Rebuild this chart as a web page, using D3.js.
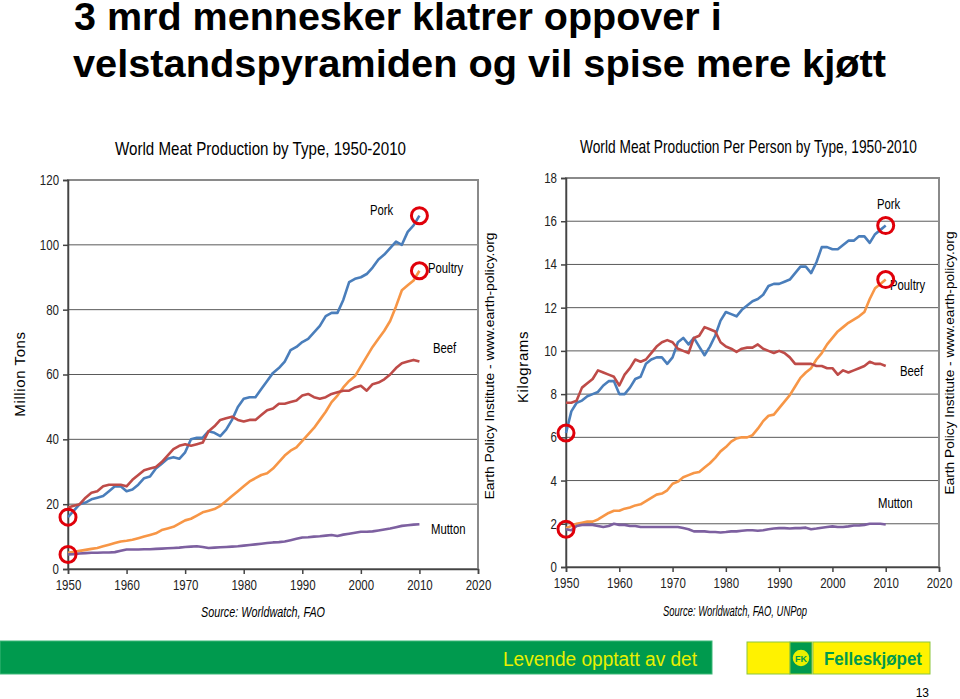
<!DOCTYPE html>
<meta charset="utf-8">
<style>
    body { margin: 0; background: #fff; }
    svg { font-family: "Liberation Sans", Arial, sans-serif; }
    .grid line { stroke: #5a5a5a; stroke-width: 1; }
    .tick text { font-size: 14px; fill: #222; }
</style>
<body>
<script src="https://cdn.jsdelivr.net/npm/d3@7"></script>
<script>
    // years 1950..2010
    const years = d3.range(1950, 2011);

    // million tons
    const totalPork = [16,18,20,20.5,21.5,22,22.5,24,25.5,25.5, 24,24.5,26,28,28.5,31,32.5,34,34.5,34,
        36,40,40.5,40.5,42.5,42,41,43,46,50, 52.5,53,53,55.5,58,60.5,62,64,67.5,68.5,
        70,71,73,75,78,79,79,83,88.5,89.5, 90,91,93,95.5,97,99,101,100,104,106, 109];
    const totalPoultry = [5,5.3,5.6,5.9,6.2,6.5,7,7.5,8,8.5, 8.7,9,9.5,10,10.5,11,12,12.5,13,14,
        15,15.5,16.5,17.5,18,18.5,19.5,21,22.5,24, 25.5,27,28,29,29.5,31,33,35,36.5,37.5,
        39.5,41.5,43.5,46,48.5,51.5,53.5,56,58,59.5, 62.5,65.5,68.5,71,73.5,76.5,81,86,87.5,89, 92];
    const totalBeef = [19,19.5,20,22,23.5,24,25.5,26,26,26, 25.5,27.5,29,30.5,31,31.5,33,35,37,38,
        38.5,38,38.5,39,42.5,44,46,46.5,47,46, 45.5,46,46,47.5,49,49.5,51,51,51.5,52,
        53.5,54,53,52.5,53,54,54.5,55,55,56, 56.5,55,57,57.5,58.5,60,62,63.5,64,64.5, 64];
    const totalMutton = [4.5,4.6,4.8,4.9,5,5,5.1,5.1,5.2,5.6, 6,6,6,6.1,6.1,6.2,6.3,6.4,6.5,6.6,
        6.8,6.9,7,6.8,6.5,6.6,6.7,6.8,6.9,7, 7.2,7.4,7.6,7.8,8,8.2,8.3,8.5,8.9,9.3,
        9.7,9.8,10,10.1,10.3,10.5,10.2,10.6,10.9,11.2, 11.5,11.5,11.6,11.9,12.2,12.5,12.9,13.3,13.5,13.7, 13.8];

    // kilograms per person
    const perPork = [6.2,7.2,7.6,7.7,7.9,8,8.1,8.4,8.6,8.6, 8,8,8.3,8.7,8.8,9.4,9.6,9.7,9.7,9.4,
        9.7,10.4,10.6,10.3,10.6,10.2,9.8,10.2,10.7,11.4, 11.8,11.7,11.6,11.9,12.1,12.3,12.4,12.6,13,13.1,
        13.1,13.2,13.3,13.6,13.9,13.9,13.6,14.1,14.8,14.8, 14.7,14.7,14.9,15.1,15.1,15.3,15.3,15,15.4,15.6, 15.8];
    const perBeef = [7.6,7.6,7.7,8.3,8.5,8.7,9.1,9,8.9,8.8, 8.4,8.9,9.2,9.6,9.5,9.6,9.9,10.2,10.4,10.5,
        10.4,10.1,10,9.9,10.6,10.7,11.1,11,10.9,10.4, 10.2,10.1,9.95,10.1,10.15,10.15,10.3,10.1,10,9.9,
        10,9.9,9.7,9.4,9.4,9.4,9.4,9.3,9.3,9.2, 9.2,8.9,9.1,9,9.1,9.2,9.3,9.5,9.4,9.4, 9.3];
    const perPoultry = [1.8,1.9,2,2.05,2.1,2.1,2.2,2.35,2.5,2.6, 2.6,2.7,2.75,2.85,2.9,3.05,3.2,3.35,3.4,3.55,
        3.85,3.95,4.15,4.25,4.35,4.4,4.6,4.8,5.05,5.35, 5.55,5.8,5.95,6,6,6.1,6.4,6.75,7,7.05,
        7.35,7.65,7.95,8.35,8.75,9,9.2,9.6,9.9,10.3, 10.6,10.9,11.1,11.3,11.45,11.6,11.8,12.4,12.9,13.1, 13.3];
    const perMutton = [1.75,1.7,1.9,1.95,1.95,1.95,1.9,1.85,1.9,2, 1.95,1.95,1.9,1.9,1.85,1.85,1.85,1.85,1.85,1.85,
        1.85,1.85,1.8,1.75,1.65,1.65,1.65,1.62,1.62,1.6, 1.62,1.65,1.65,1.68,1.7,1.7,1.68,1.7,1.75,1.78,
        1.8,1.8,1.78,1.8,1.8,1.82,1.75,1.78,1.82,1.85, 1.88,1.85,1.85,1.88,1.92,1.92,1.95,2,2,2, 1.97];

    const xTicks = [1950, 1960, 1970, 1980, 1990, 2000, 2010, 2020];
    const leftTicks = [0, 20, 40, 60, 80, 100, 120];
    const rightTicks = [0, 2, 4, 6, 8, 10, 12, 14, 16, 18];

    const colors = {Pork: "#4a7ebb", Beef: "#be4b48", Poultry: "#f79646", Mutton: "#7d60a0"};

    const svg = d3.select("body").append("svg")
        .attr("width", 960)
        .attr("height", 699);

    // squeeze text horizontally, no narrow font installed
    function narrow(sel, k) {
        sel.each(function() {
            const w = this.getComputedTextLength();
            d3.select(this).attr("textLength", w * (k || 0.8)).attr("lengthAdjust", "spacingAndGlyphs");
        });
    }

    // slide title
    svg.append("text")
        .attr("x", 74).attr("y", 30)
        .style("font-weight", "bold").style("font-size", "39.5px")
        .text("3 mrd mennesker klatrer oppover i");
    svg.append("text")
        .attr("x", 73).attr("y", 77)
        .attr("textLength", 813).attr("lengthAdjust", "spacingAndGlyphs")
        .style("font-weight", "bold").style("font-size", "39.5px")
        .text("velstandspyramiden og vil spise mere kjøtt");

    function drawChart(c) {
        const g = svg.append("g");
        const x = d3.scaleLinear().domain([1950, 2020]).range([c.left, c.right]);
        const y = d3.scaleLinear().domain([0, c.ymax]).range([c.bottom, c.top]);

        // grid
        g.append("g").attr("class", "grid")
            .selectAll("line")
            .data(c.yTicks.filter(d => d > 0 && d < c.ymax))
            .enter().append("line")
            .attr("x1", c.left).attr("x2", c.right)
            .attr("y1", d => y(d)).attr("y2", d => y(d));

        // frame
        g.append("rect")
            .attr("x", c.left).attr("y", c.top)
            .attr("width", c.right - c.left).attr("height", c.bottom - c.top)
            .style("fill", "none").style("stroke", "#8a8a8a").style("stroke-width", 2);

        // axes
        g.append("g")
            .attr("transform", "translate(" + c.left + ",0)")
            .call(d3.axisLeft(y).tickValues(c.yTicks).tickSize(5).tickPadding(4))
            .call(a => a.selectAll("path, line").style("stroke", "#444").style("stroke-width", 1.5))
            .call(a => a.selectAll("text").call(narrow, 0.82));

        g.append("g")
            .attr("transform", "translate(0," + c.bottom + ")")
            .call(d3.axisBottom(x).tickValues(xTicks).tickFormat(d3.format("d")).tickSize(5).tickPadding(6))
            .call(a => a.selectAll("path, line").style("stroke", "#444").style("stroke-width", 1.5))
            .call(a => a.selectAll("text").call(narrow, 0.82));

        // lines
        const line = d3.line()
            .x((d, i) => x(years[i]))
            .y(d => y(d));

        c.series.forEach(s => {
            g.append("path")
                .datum(s.values)
                .attr("d", line)
                .style("fill", "none")
                .style("stroke", colors[s.name])
                .style("stroke-width", 2.6)
                .style("stroke-linejoin", "round");

            g.append("text")
                .attr("x", s.lx).attr("y", s.ly)
                .style("font-size", "14.5px")
                .text(s.name)
                .call(narrow, 0.78);
        });

        // red circles on highlighted points
        g.selectAll(".mark")
            .data(c.circles)
            .enter().append("circle")
            .attr("cx", d => x(d.year))
            .attr("cy", d => y(d.value))
            .attr("r", 8)
            .style("fill", "none")
            .style("stroke", "#e0000a")
            .style("stroke-width", 3);

        // titles
        g.append("text")
            .attr("x", c.titleX).attr("y", c.titleY)
            .attr("textLength", c.titleW).attr("lengthAdjust", "spacingAndGlyphs")
            .style("font-size", "19px")
            .text(c.title);

        g.append("text")
            .attr("x", c.sourceX).attr("y", c.sourceY)
            .attr("textLength", c.sourceW).attr("lengthAdjust", "spacingAndGlyphs")
            .style("font-size", "15px").style("font-style", "italic")
            .text(c.source);

        g.append("text")
            .attr("transform", "translate(" + c.yLabelX + "," + c.yLabelY + ") rotate(-90)")
            .style("text-anchor", "middle")
            .style("font-size", "15px")
            .style("letter-spacing", "0.6px")
            .text(c.yLabel);

        g.append("text")
            .attr("transform", "translate(" + c.creditX + "," + c.creditY + ") rotate(-90)")
            .attr("textLength", c.creditW).attr("lengthAdjust", "spacingAndGlyphs")
            .style("text-anchor", "middle")
            .style("font-size", "13px")
            .text("Earth Policy Institute - www.earth-policy.org");
    }

    drawChart({
        left: 68, right: 478, top: 180, bottom: 569, ymax: 120, yTicks: leftTicks,
        series: [
            {name: "Pork", values: totalPork, lx: 370, ly: 215},
            {name: "Poultry", values: totalPoultry, lx: 428, ly: 273},
            {name: "Beef", values: totalBeef, lx: 433, ly: 353},
            {name: "Mutton", values: totalMutton, lx: 431, ly: 534}
        ],
        circles: [
            {year: 2010, value: totalPork[60]},
            {year: 2010, value: totalPoultry[60]},
            {year: 1950, value: totalPork[0]},
            {year: 1950, value: totalMutton[0]}
        ],
        title: "World Meat Production by Type, 1950-2010", titleX: 115, titleY: 155, titleW: 291,
        source: "Source: Worldwatch, FAO", sourceX: 201, sourceY: 617, sourceW: 124,
        yLabel: "Million Tons", yLabelX: 25, yLabelY: 374,
        creditX: 494, creditY: 366, creditW: 267
    });

    drawChart({
        left: 566, right: 939, top: 178, bottom: 567, ymax: 18, yTicks: rightTicks,
        series: [
            {name: "Pork", values: perPork, lx: 877, ly: 209},
            {name: "Poultry", values: perPoultry, lx: 890, ly: 290},
            {name: "Beef", values: perBeef, lx: 900, ly: 376},
            {name: "Mutton", values: perMutton, lx: 878, ly: 508}
        ],
        circles: [
            {year: 2010, value: perPork[60]},
            {year: 2010, value: perPoultry[60]},
            {year: 1950, value: perPork[0]},
            {year: 1950, value: perMutton[0]}
        ],
        title: "World Meat Production Per Person by Type, 1950-2010", titleX: 580, titleY: 153, titleW: 337,
        source: "Source: Worldwatch, FAO, UNPop", sourceX: 663, sourceY: 616, sourceW: 144,
        yLabel: "Kilograms", yLabelX: 528, yLabelY: 367,
        creditX: 954, creditY: 363, creditW: 263
    });

    // footer
    const footer = svg.append("g");
    footer.append("rect")
        .attr("x", 0).attr("y", 641).attr("width", 712).attr("height", 33)
        .style("fill", "#009a4e").style("stroke", "#3cb878").style("stroke-width", 1);
    footer.append("text")
        .attr("x", 503).attr("y", 666)
        .attr("textLength", 194).attr("lengthAdjust", "spacingAndGlyphs")
        .style("font-size", "20px").style("fill", "#e8f000")
        .text("Levende opptatt av det");

    footer.append("rect")
        .attr("x", 747).attr("y", 642).attr("width", 43).attr("height", 32)
        .style("fill", "#fff200").style("stroke", "#8cc63f");
    footer.append("rect")
        .attr("x", 790).attr("y", 642).attr("width", 22).attr("height", 32)
        .style("fill", "#009a4e").style("stroke", "#8cc63f");
    footer.append("circle")
        .attr("cx", 801).attr("cy", 658).attr("r", 9)
        .style("fill", "#e8f000").style("stroke", "#009a4e").style("stroke-width", 1.5);
    footer.append("text")
        .attr("x", 801).attr("y", 662)
        .style("text-anchor", "middle").style("font-size", "9px").style("font-weight", "bold")
        .style("fill", "#009a4e")
        .text("FK");
    footer.append("rect")
        .attr("x", 813).attr("y", 642).attr("width", 117).attr("height", 32)
        .style("fill", "#fff200").style("stroke", "#8cc63f");
    footer.append("text")
        .attr("x", 824).attr("y", 665)
        .style("font-size", "19px").style("font-weight", "bold").style("fill", "#009a4e")
        .attr("textLength", 98).attr("lengthAdjust", "spacingAndGlyphs")
        .text("Felleskjøpet");

    svg.append("text")
        .attr("x", 929).attr("y", 697)
        .style("text-anchor", "end").style("font-size", "12px")
        .text("13");
</script>
</body>
</html>
